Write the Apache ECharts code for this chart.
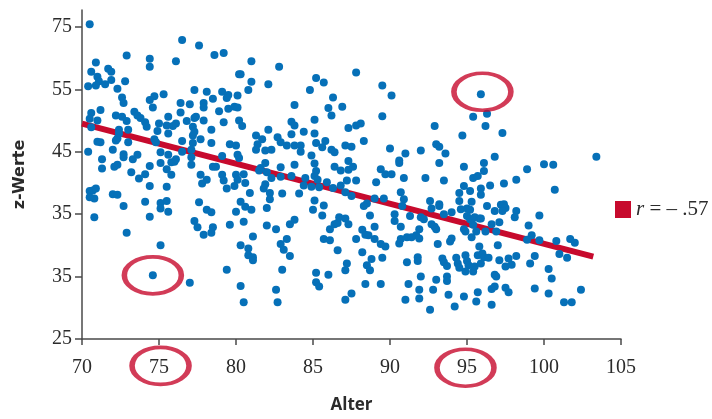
<!DOCTYPE html>
<html>
<head>
<meta charset="utf-8">
<title>z-Werte nach Alter</title>
<script src="https://cdn.jsdelivr.net/npm/echarts@6/dist/echarts.min.js"></script>
<style>
  html, body { margin: 0; padding: 0; background: #fff; }
  #chart { width: 712px; height: 419px; }
</style>
</head>
<body>
<div id="chart"></div>
<script>
// axis ticks (the y labels are printed as in the source figure)
var yTickValues = [25, 35, 45, 55, 65, 75];
var yTickLabels = ['25', '35', '35', '45', '55', '75'];

// [Alter, z-Wert]
var points = [
  [70.5,75.4],[76.5,72.9],[77.6,72.0],[72.9,70.4],[74.4,69.9],[78.6,70.5],[79.2,70.8],[76.1,69.5],[74.4,68.6],[70.9,69.3],
  [70.6,67.8],[71.7,68.3],[71.9,67.8],[71.0,67.0],[71.1,66.3],[71.9,66.5],[71.5,65.8],[70.4,65.5],[70.9,65.6],[72.3,65.1],
  [72.8,66.3],[72.6,63.7],[72.7,62.8],[74.7,63.9],[74.4,63.3],[75.3,64.2],[76.4,62.8],[74.6,62.1],[77.3,64.9],[78.1,64.6],
  [77.9,62.8],[77.9,62.1],[78.5,63.5],[79.1,64.6],[79.5,64.1],[79.4,63.6],[80.2,67.4],[80.1,64.0],[78.9,61.5],[79.5,61.9],
  [79.9,62.2],[71.2,61.7],[70.6,61.2],[70.5,60.3],[71.0,60.0],[70.6,58.9],[72.2,60.8],[72.6,60.6],[72.9,59.9],[73.4,61.4],
  [73.6,60.8],[73.8,60.4],[74.1,59.7],[74.2,59.0],[73.0,58.5],[72.4,58.5],[72.4,57.9],[72.3,57.1],[72.2,56.8],[75.6,60.6],
  [75.9,59.1],[76.1,59.5],[76.4,61.3],[77.0,62.6],[76.8,59.9],[77.3,60.4],[77.4,60.6],[77.2,59.0],[77.2,57.6],[77.9,60.0],
  [78.4,58.5],[79.2,59.7],[80.2,60.0],[75.0,59.5],[74.9,58.3],[74.7,57.0],[75.6,57.9],[75.5,59.2],[76.5,56.7],[76.5,55.0],
  [77.3,58.2],[77.2,56.4],[77.1,55.3],[77.7,57.0],[78.4,56.4],[79.1,54.3],[79.6,56.2],[80.0,56.0],[80.2,54.0],[70.4,55.0],
  [71.0,56.6],[71.2,56.5],[71.3,53.8],[71.3,52.3],[72.0,55.3],[73.0,56.5],[72.7,54.6],[72.7,54.1],[72.3,52.9],[72.1,52.6],
  [73.3,53.8],[73.6,54.5],[73.2,51.7],[74.1,51.4],[73.7,50.7],[74.4,52.7],[74.4,49.5],[74.8,56.5],[75.1,54.9],[75.1,53.2],
  [75.6,54.5],[75.8,53.3],[75.5,52.2],[75.8,51.3],[75.5,49.4],[76.0,53.4],[76.1,53.8],[77.1,54.1],[77.1,52.9],[77.8,49.9],
  [78.1,50.5],[77.7,51.3],[78.5,52.6],[78.7,52.6],[79.1,51.3],[79.2,50.4],[79.4,49.1],[79.9,49.5],[80.0,51.3],[70.5,48.7],
  [70.7,48.8],[70.9,49.1],[70.8,47.5],[70.5,47.7],[72.0,48.2],[72.3,48.1],[72.7,46.3],[74.1,47.0],[75.1,46.8],[75.5,47.1],
  [75.1,45.9],[75.6,45.4],[77.6,46.9],[78.1,45.7],[78.4,45.3],[80.0,45.4],[70.8,44.5],[74.4,44.6],[77.3,43.9],[77.5,42.9],
  [78.5,42.9],[78.4,42.0],[77.9,41.7],[79.6,43.3],[72.9,42.0],[75.1,40.0],[80.3,40.0],[79.4,36.1],[74.6,35.2],[77.0,34.0],
  [80.3,33.5],
  [81.0,69.5],[82.8,68.6],[80.3,67.4],[81.0,66.2],[80.8,64.9],[82.1,65.8],[85.2,66.8],[85.7,66.1],[84.8,64.9],[87.8,67.7],
  [89.5,65.6],[90.1,64.0],[86.3,63.7],[83.8,62.5],[86.0,62.0],[86.9,62.2],[86.2,60.8],[89.5,60.7],[85.1,60.1],[83.6,59.8],
  [83.8,59.2],[80.4,59.1],[80.1,62.1],[82.1,58.5],[84.4,58.2],[83.6,57.8],[85.1,57.9],[87.3,58.8],[87.8,59.2],[88.1,59.5],
  [88.3,56.7],[85.8,56.7],[85.2,56.4],[85.6,55.7],[81.3,57.6],[81.7,57.0],[82.7,57.3],[82.9,56.5],[81.4,56.2],[81.3,55.3],
  [82.3,55.3],[81.9,55.2],[83.3,56.0],[83.8,56.0],[84.2,56.0],[84.2,55.0],[84.9,54.4],[86.2,55.3],[86.4,54.9],[87.1,56.0],
  [87.5,55.8],[90.0,55.5],[91.0,54.7],[90.6,53.6],[90.6,53.2],[92.0,55.2],[85.1,53.1],[83.8,52.9],[82.9,52.5],[81.9,53.2],
  [81.6,52.4],[81.5,52.0],[82.0,51.7],[80.5,51.4],[80.1,54.5],[86.4,52.6],[86.8,52.0],[87.3,52.1],[87.6,52.6],[87.3,53.5],
  [89.4,52.2],[89.7,51.4],[90.1,51.4],[90.9,50.8],[89.1,50.1],[87.8,50.4],[87.2,50.4],[85.2,51.9],[85.1,51.1],[85.3,50.5],
  [85.9,50.1],[86.3,49.2],[86.8,49.6],[87.1,48.5],[87.5,47.9],[84.5,50.8],[84.4,49.6],[84.9,49.4],[85.4,49.3],[83.6,51.1],
  [82.9,51.0],[82.3,50.8],[81.9,49.8],[81.8,49.1],[82.2,48.4],[82.2,47.4],[83.0,48.3],[84.1,48.3],[85.1,47.2],[85.7,46.4],
  [80.9,48.4],[80.6,50.0],[80.1,50.5],[80.3,47.0],[88.5,46.7],[88.3,46.3],[89.0,47.5],[89.6,47.5],[90.7,48.5],[90.9,47.4],
  [95.4,60.6],[94.7,57.6],[92.9,59.1],[93.0,56.2],[93.2,55.8],[93.6,54.7],[93.2,53.2],[92.3,50.8],[93.5,50.4],[94.8,52.6],
  [95.4,50.8],[95.7,51.1],[94.5,48.4],[94.8,49.5],[95.2,48.7],[94.5,47.1],[93.2,46.6],[92.6,47.1],
  [95.9,64.2],[96.3,61.1],[96.2,59.1],[97.3,58.0],[96.8,54.2],[96.1,53.2],[96.1,51.9],[98.9,52.2],[98.2,50.5],
  [100.0,53.0],[100.6,52.9],[103.4,54.2],[100.7,48.9],[97.4,49.9],[96.5,49.6],[95.9,49.1],[95.9,48.1],[95.3,47.0],[96.3,46.3],
  [97.2,46.5],[97.4,46.6],
  [80.6,46.2],[81.0,45.7],[80.5,43.8],[82.0,46.0],[82.0,43.2],[82.6,42.6],[81.1,41.4],[80.8,39.5],[80.8,38.4],[81.1,38.1],
  [81.1,37.6],[82.9,40.2],[83.1,39.3],[83.3,41.0],[83.5,43.4],[83.8,44.1],[83.5,38.3],[83.0,36.1],[80.5,30.9],[82.6,32.9],
  [82.7,30.9],[85.0,45.7],[85.6,44.8],[86.1,42.6],[86.4,43.4],[86.6,43.6],[86.7,44.5],[87.1,44.3],[87.3,43.4],[85.7,41.0],
  [86.1,40.8],[86.6,39.2],[85.2,35.6],[86.0,35.3],[85.2,34.1],[85.4,33.4],[87.1,36.0],[87.2,37.1],[87.1,31.3],[87.5,32.3],
  [87.8,41.0],[88.2,42.5],[88.4,41.7],[88.6,41.6],[88.2,38.9],[88.7,44.8],[89.0,43.0],[89.0,41.0],[89.4,40.2],[89.7,39.8],
  [88.5,36.8],[88.7,36.0],[88.8,37.8],[89.5,38.0],[88.4,33.8],[89.4,33.8],[90.3,45.0],[90.3,43.9],[90.7,43.0],[91.3,44.7],
  [90.8,46.3],[90.6,40.3],[90.7,41.0],[91.1,41.3],[91.4,41.3],[91.7,41.6],[91.9,42.6],[91.8,38.1],[91.8,37.5],[91.1,37.3],
  [91.2,33.8],[91.0,31.3],[91.9,32.9],[91.9,31.5],[92.0,35.0],
  [92.0,44.5],[92.2,44.2],[92.7,43.4],[92.9,43.0],[93.0,42.6],[91.9,41.1],[93.1,40.2],[93.4,37.9],[93.5,37.3],[93.7,36.7],
  [93.0,34.5],[93.7,35.0],[93.7,34.3],[92.8,32.9],[93.8,32.1],[92.6,29.7],[94.2,30.2],[94.8,31.8],[95.7,32.5],[95.6,31.0],
  [96.6,30.5],[96.6,33.0],[96.8,33.4],[97.5,33.2],[97.7,32.5],[93.9,40.6],[94.0,41.1],[94.3,38.0],[94.4,37.1],[94.5,36.4],
  [94.9,38.4],[95.0,37.5],[95.1,36.8],[94.9,35.8],[95.4,35.8],[95.5,36.6],[95.7,38.4],[96.0,38.7],[96.1,38.1],[96.4,38.0],
  [95.9,37.1],[95.8,39.8],[95.3,41.3],[94.8,42.6],[94.9,42.2],[95.6,42.2],[96.2,42.2],[95.4,43.3],[96.6,43.4],[97.1,43.7],
  [96.9,42.2],[97.0,40.0],[97.1,37.6],[96.8,35.3],[96.9,35.0],[97.5,36.6],[97.7,37.9],[97.9,36.9],[98.2,38.3],[94.6,45.8],
  [95.0,45.9],[95.2,45.7],[95.0,44.7],[95.2,44.2],[95.5,44.5],[95.8,44.3],[95.9,44.3],[96.8,45.5],[97.5,46.0],[97.3,45.5],
  [98.2,45.5],[98.1,44.5],[94.0,45.3],[93.5,45.0],[92.7,45.9],[93.2,46.3],[99.0,43.2],[99.2,41.6],[98.9,40.9],[99.7,40.8],
  [99.7,44.8],[99.4,38.3],[99.1,37.1],[100.8,40.7],[101.7,41.0],[102.0,40.4],[101.0,38.6],[101.5,38.0],[100.3,36.2],[100.5,34.7],
  [99.4,33.1],[100.3,32.3],[102.4,32.9],[101.3,30.9],[101.8,30.9]
];

// regression line end points
var trendLine = [[70, 59.5], [103.2, 38.2]];
// red rings: two data points and two x labels
var rings = [[74.6, 35.2], [96.0, 64.6], [75.1, 20.7], [94.9, 20.4]];
var legendText = 'r = \u2013 .57';

var red = '#c70a2d';
var blue = '#0670b8';
var axisColor = '#4a4a4a';
var serif = '"Liberation Serif", "DejaVu Serif", serif';

var chart = echarts.init(document.getElementById('chart'));

chart.setOption({
  animation: false,
  backgroundColor: '#fff',
  grid: { left: 82, right: 91, top: 10, bottom: 76 },
  legend: {
    left: 610,
    top: 194,
    itemWidth: 16,
    itemHeight: 17,
    data: [{ name: legendText, icon: 'rect' }],
    formatter: function (name) {
      return '{i|r}{t|' + name.slice(1) + '}';
    },
    textStyle: {
      rich: {
        i: { fontFamily: serif, fontSize: 21, fontStyle: 'italic', color: '#2b2b2b' },
        t: { fontFamily: serif, fontSize: 21, color: '#2b2b2b' }
      }
    }
  },
  xAxis: {
    type: 'value',
    min: 70,
    max: 105,
    interval: 5,
    name: 'Alter',
    nameLocation: 'middle',
    nameGap: 58,
    nameTextStyle: { fontFamily: '"Open Sans", sans-serif', fontWeight: 'bold', fontSize: 17, color: '#2b2b2b' },
    axisLine: { lineStyle: { color: axisColor, width: 1.5 } },
    axisTick: { length: 6, lineStyle: { color: axisColor, width: 1.5 } },
    axisLabel: { margin: 19, fontFamily: serif, fontSize: 20, color: '#2b2b2b' },
    splitLine: { show: false }
  },
  yAxis: {
    type: 'value',
    min: 25,
    max: 77.7,
    name: 'z-Werte',
    nameLocation: 'middle',
    nameRotate: 90,
    nameGap: 54,
    nameTextStyle: { fontFamily: '"DejaVu Sans", sans-serif', fontWeight: 'bold', fontSize: 16, color: '#2b2b2b' },
    axisLine: { show: true, lineStyle: { color: axisColor, width: 1.5 } },
    axisTick: { show: true, length: 7, customValues: yTickValues, lineStyle: { color: axisColor, width: 1.5 } },
    axisLabel: {
      margin: 10,
      customValues: yTickValues,
      fontFamily: serif,
      fontSize: 20,
      color: '#2b2b2b',
      formatter: function (v) {
        var i = yTickValues.indexOf(Math.round(v));
        return i < 0 ? '' : yTickLabels[i];
      }
    },
    splitLine: { show: false }
  },
  series: [
    {
      name: legendText,
      type: 'line',
      data: trendLine,
      symbol: 'none',
      z: 1,
      itemStyle: { color: red },
      lineStyle: { color: red, width: 6 }
    },
    {
      name: 'Werte',
      type: 'scatter',
      data: points,
      symbolSize: 8,
      z: 2,
      itemStyle: { color: blue, opacity: 1 }
    },
    {
      name: 'Markierung',
      type: 'scatter',
      data: rings,
      clip: false,
      silent: true,
      symbol: 'circle',
      symbolSize: [57, 37],
      z: 3,
      itemStyle: { color: 'rgba(0,0,0,0)', borderColor: red, borderWidth: 4.5 }
    }
  ]
});
</script>
</body>
</html>
